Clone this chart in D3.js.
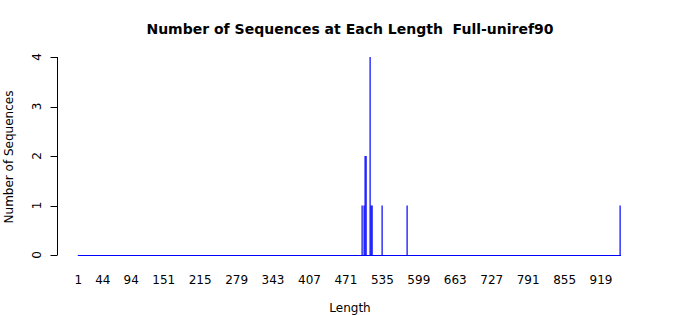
<!DOCTYPE html>
<html>
<head>
<script src="https://d3js.org/d3.v7.min.js" charset="utf-8"></script>
<style type="text/css">
	body { margin: 0; background: #fff; font-family: "DejaVu Sans", sans-serif; }
	text { white-space: pre; }
</style>
</head>
<body>
<script>
// sequence lengths that occur, and how many sequences have each
var lengths = [499, 503, 505, 506, 514, 515, 516, 534, 579, 953];
var counts  = [1, 1, 2, 2, 4, 1, 1, 1, 1, 1];
var lenMin = 1, lenMax = 953;
var xLabels = [1, 44, 94, 151, 215, 279, 343, 407, 471, 535, 599, 663, 727, 791, 855, 919];
var yTicks = [0, 1, 2, 3, 4];

var w = 700, h = 315;

var svg = d3.select("body").append("svg")
	.attr("width", w)
	.attr("height", h);

var x = d3.scaleLinear().domain([lenMin, lenMax]).range([78.3, 620.4]);
var y = d3.scaleLinear().domain([0, 4]).range([255, 57]);

// title
svg.append("text")
	.attr("x", 350).attr("y", 34)
	.attr("text-anchor", "middle")
	.style("font-size", "14px").style("font-weight", "bold")
	.text("Number of Sequences at Each Length  Full-uniref90");

// baseline made of the empty bars
svg.append("line")
	.attr("x1", x(lenMin) - 0.5).attr("x2", x(lenMax) + 0.5)
	.attr("y1", y(0) + 0.5).attr("y2", y(0) + 0.5)
	.attr("stroke", "#0000ff").attr("stroke-width", 1);

// bars
svg.selectAll("rect.bar")
	.data(lengths)
	.enter().append("rect")
	.attr("class", "bar")
	.attr("x", function(d) { return Math.round(x(d)) - 0.5; })
	.attr("width", 1.2)
	.attr("y", function(d, i) { return y(counts[i]); })
	.attr("height", function(d, i) { return y(0) - y(counts[i]) + 1; })
	.attr("fill", "#0000ff");

// y axis
var yAxis = svg.append("g").attr("transform", "translate(57.5,0)");
yAxis.append("line")
	.attr("x1", 0).attr("x2", 0)
	.attr("y1", y(4)).attr("y2", y(0))
	.attr("stroke", "#000");
yAxis.selectAll("line.tick")
	.data(yTicks).enter().append("line")
	.attr("class", "tick")
	.attr("x1", -7).attr("x2", 0)
	.attr("y1", function(d) { return Math.round(y(d)) + 0.5; })
	.attr("y2", function(d) { return Math.round(y(d)) + 0.5; })
	.attr("stroke", "#000");
yAxis.selectAll("text")
	.data(yTicks).enter().append("text")
	.attr("transform", function(d) { return "translate(-17," + y(d) + ") rotate(-90)"; })
	.attr("text-anchor", "middle")
	.style("font-size", "12px")
	.text(function(d) { return d; });

// x labels (no axis line)
svg.selectAll("text.xl")
	.data(xLabels).enter().append("text")
	.attr("class", "xl")
	.attr("x", function(d) { return x(d); })
	.attr("y", 284)
	.attr("text-anchor", "middle")
	.style("font-size", "12px")
	.text(function(d) { return d; });

svg.append("text")
	.attr("x", 350).attr("y", 312)
	.attr("text-anchor", "middle")
	.style("font-size", "12px")
	.text("Length");

svg.append("text")
	.attr("transform", "translate(13,157) rotate(-90)")
	.attr("text-anchor", "middle")
	.style("font-size", "12px")
	.text("Number of Sequences");
</script>
</body>
</html>
